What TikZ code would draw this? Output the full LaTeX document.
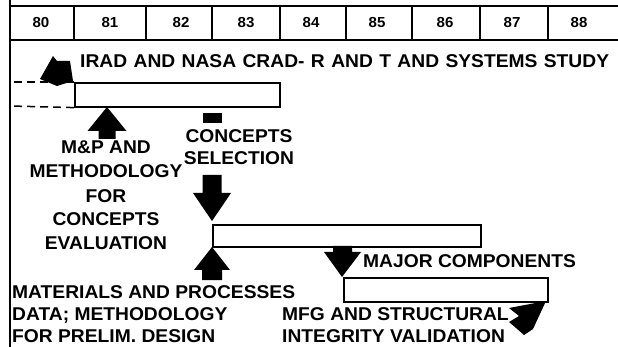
\documentclass[tikz,border=0pt]{standalone}
\usepackage{fontspec}
\setmainfont[FakeStretch=1.04]{Liberation Sans}
\begin{document}
\begin{tikzpicture}[x=1pt,y=-1pt,
  rule/.style={line width=1.4pt},
  colsep/.style={line width=1.1pt},
  bar/.style={draw,line width=1.6pt,fill=white,anchor=north west,inner sep=0pt},
  lbl/.style={font=\fontsize{18.5}{24}\selectfont\bfseries,inner sep=0pt},
  lbltight/.style={font=\fontsize{18.5}{22}\selectfont\bfseries,inner sep=0pt},
  yr/.style={font=\fontsize{14.5}{16}\selectfont\bfseries,inner sep=0pt,anchor=base},
  blk/.style={fill=black},
  dashline/.style={line width=1.5pt,dash pattern=on 8pt off 5pt}]
\useasboundingbox (0,0) rectangle (618,347);
% frame and header
\draw[line width=2pt] (10,0) -- (10,347);
\draw[rule] (10,6) -- (618,6);
\draw[rule] (10,40) -- (618,40);
\foreach \x in {74,146,212,280,346,412,480,548} \draw[colsep] (\x,6) -- (\x,40);
\node[yr] (y80) at (41,28) {80};
\node[yr] (y81) at (110,28) {81};
\node[yr] (y82) at (181,28) {82};
\node[yr] (y83) at (246,28) {83};
\node[yr] (y84) at (311,28) {84};
\node[yr] (y85) at (377,28) {85};
\node[yr] (y86) at (445,28) {86};
\node[yr] (y87) at (512,28) {87};
\node[yr] (y88) at (579,28) {88};
% bars
\node[bar,minimum width=205pt,minimum height=24pt] (b1) at (74,82) {};
\node[bar,minimum width=268pt,minimum height=22pt] (b2) at (212,224) {};
\node[bar,minimum width=204pt,minimum height=24pt] (b3) at (343,277) {};
\coordinate (d1) at (10,82);
\coordinate (d2) at (10,106);
\draw[dashline] (b1.north west) -- (d1);
\draw[dashline] (b1.south west) -- (d2);
% block arrows
\fill[blk] (40,79) -- (53,56) -- (57,61) -- (70,61) -- (73,81) -- (57,86) -- cycle;
\fill[blk] (107,107) -- (126.5,131) -- (115.5,131) -- (115.5,139) -- (98.5,139) -- (98.5,131) -- (87.5,131) -- cycle;
\fill[blk] (203,113) rectangle (222,123);
\fill[blk] (212,221) -- (231,193) -- (221.5,193) -- (221.5,175) -- (202.5,175) -- (202.5,193) -- (193,193) -- cycle;
\fill[blk] (212,247) -- (230,270) -- (222,270) -- (222,280) -- (202,280) -- (202,270) -- (194,270) -- cycle;
\fill[blk] (342,277) -- (361,252) -- (352,252) -- (352,246) -- (333,246) -- (333,252) -- (324,252) -- cycle;
\fill[blk] (546,301) -- (533,329) -- (524,335) -- (516,328) -- (509,322) -- (519,316) -- (509,308) -- cycle;
% texts
\node[lbl,anchor=base west] (irad) at (80,68) {\spaceskip=6.4pt\relax IRAD AND NASA CRAD- R AND T AND SYSTEMS STUDY};
\node[lbl,align=center,anchor=base] (mp) at (106,250) {M\&P AND\\METHODOLOGY\\FOR\\CONCEPTS\\EVALUATION};
\node[lbltight,align=center,anchor=base] (cs) at (239,165) {CONCEPTS\\SELECTION};
\node[lbltight,anchor=base west] (mc) at (363,267) {MAJOR COMPONENTS};
\node[lbltight,align=left,anchor=base west] (mat) at (12,342) {MATERIALS AND PROCESSES\\DATA; METHODOLOGY\\FOR PRELIM. DESIGN};
\node[lbltight,align=left,anchor=base west] (mfg) at (282,342) {MFG AND STRUCTURAL\\INTEGRITY VALIDATION};
\end{tikzpicture}
\end{document}
